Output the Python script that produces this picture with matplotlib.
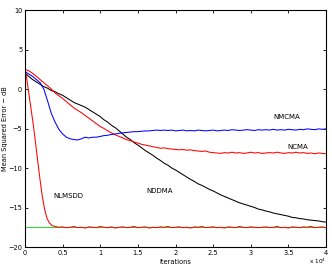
import numpy as np
import matplotlib
matplotlib.use("Agg")
import matplotlib.pyplot as plt
from matplotlib.ticker import FuncFormatter

# iteration grid (0 .. 40000, every 500)
iters = np.arange(0, 40001, 500)

nmcma = [2.2, 1.9, 1.6, 1.2, 0.8, 0.0, -1.5, -3.1, -4.2, -5.1,
         -5.7, -6.1, -6.3, -6.4, -6.45, -6.3, -6.1, -6.2, -6.1, -6.1,
         -6.0, -5.9, -5.85, -5.75, -5.7, -5.6, -5.55, -5.5, -5.45, -5.4,
         -5.4, -5.35, -5.3, -5.3, -5.25, -5.2, -5.25, -5.2, -5.25, -5.2,
         -5.3, -5.25, -5.2, -5.3, -5.25, -5.3, -5.2, -5.25, -5.3, -5.25,
         -5.2, -5.3, -5.25, -5.2, -5.25, -5.15, -5.2, -5.25, -5.2, -5.15,
         -5.2, -5.25, -5.15, -5.2, -5.15, -5.2, -5.1, -5.2, -5.15, -5.2,
         -5.1, -5.15, -5.2, -5.1, -5.15, -5.05, -5.1, -5.15, -5.05, -5.1,
         -5.05]

ncma = [2.5, 2.3, 2.0, 1.6, 1.2, 0.8, 0.4, 0.0, -0.5, -0.85,
        -1.2, -1.6, -2.0, -2.4, -2.7, -3.0, -3.35, -3.7, -4.05, -4.4,
        -4.75, -5.0, -5.3, -5.55, -5.8, -6.0, -6.2, -6.4, -6.55, -6.7,
        -6.85, -7.0, -7.1, -7.2, -7.3, -7.4, -7.5, -7.45, -7.55, -7.6,
        -7.65, -7.7, -7.65, -7.75, -7.7, -7.8, -7.85, -7.9, -7.85, -8.0,
        -8.05, -8.1, -8.15, -8.05, -8.1, -8.0, -8.1, -8.05, -8.15, -8.1,
        -8.0, -8.1, -8.05, -8.15, -8.1, -8.05, -8.1, -8.0, -8.1, -8.15,
        -8.05, -8.1, -8.0, -8.1, -8.05, -8.15, -8.1, -8.2, -8.1, -8.15,
        -8.2]

nddma = [2.0, 1.6, 1.2, 0.9, 0.6, 0.3, 0.1, -0.2, -0.35, -0.6,
         -0.8, -1.1, -1.4, -1.7, -1.9, -2.1, -2.3, -2.6, -2.9, -3.2,
         -3.5, -3.9, -4.2, -4.6, -4.9, -5.3, -5.7, -6.1, -6.4, -6.8,
         -7.1, -7.45, -7.8, -8.1, -8.4, -8.75, -9.05, -9.4, -9.65, -10.0,
         -10.25, -10.55, -10.85, -11.15, -11.45, -11.7, -12.0, -12.2, -12.45, -12.7,
         -12.9, -13.15, -13.4, -13.6, -13.8, -14.0, -14.2, -14.4, -14.55, -14.7,
         -14.85, -15.0, -15.2, -15.3, -15.45, -15.55, -15.7, -15.8, -15.9, -16.0,
         -16.1, -16.25, -16.3, -16.4, -16.45, -16.55, -16.6, -16.65, -16.7, -16.8,
         -16.85]

# fast NLMSDD curve: own iteration points
nlms_iters = [0, 200, 500, 800, 1100, 1400, 1700, 2000, 2300, 2600,
              2900, 3200, 3600, 4000, 4500] + list(range(5000, 40001, 500))
nlmsdd = [2.5, 1.5, -0.5, -2.5, -4.5, -6.8, -9.2, -11.5, -13.6, -15.2,
          -16.3, -16.9, -17.3, -17.4, -17.5,
          -17.45, -17.55, -17.5, -17.4, -17.55, -17.5, -17.6, -17.45, -17.5, -17.55,
          -17.4, -17.5, -17.55, -17.45, -17.6, -17.5, -17.45, -17.55, -17.5, -17.4,
          -17.55, -17.5, -17.45, -17.6, -17.5, -17.55, -17.45, -17.5, -17.4, -17.55,
          -17.5, -17.45, -17.55, -17.5, -17.6, -17.45, -17.5, -17.4, -17.55, -17.5,
          -17.45, -17.55, -17.5, -17.6, -17.45, -17.5, -17.55, -17.4, -17.5, -17.55,
          -17.45, -17.5, -17.55, -17.5, -17.45, -17.55, -17.5, -17.4, -17.55, -17.5,
          -17.6, -17.45, -17.5, -17.55, -17.45, -17.5, -17.4, -17.55, -17.5, -17.45,
          -17.55]

mmse_iters = [0, 40000]
mmse = [-17.5, -17.5]

xticks = [0, 5000, 10000, 15000, 20000, 25000, 30000, 35000, 40000]
yticks = [-20, -15, -10, -5, 0, 5, 10]

fig = plt.figure(figsize=(3.32, 2.67), dpi=100)
ax = fig.add_axes([0.0753, 0.0749, 0.9067, 0.8876])

lw = 0.75
ax.plot(mmse_iters, mmse, color='#33dd33', lw=lw)
ax.plot(iters, nddma, color='black', lw=lw)
ax.plot(iters, ncma, color='#ff0000', lw=lw)
ax.plot(iters, nmcma, color='#0000ff', lw=lw)
ax.plot(nlms_iters, nlmsdd, color='#ff0000', lw=lw)

ax.set_xlim(0, 40000)
ax.set_ylim(-20, 10)
ax.set_xticks(xticks)
ax.set_yticks(yticks)
ax.xaxis.set_major_formatter(FuncFormatter(lambda v, p: f"{v/1e4:g}"))
ax.tick_params(direction='in', length=2.5, width=0.6, labelsize=4.8,
               top=True, right=True, pad=2)
for s in ax.spines.values():
    s.set_linewidth(0.8)

ax.set_xlabel('Iterations', fontsize=4.8, labelpad=2)
ax.set_ylabel('Mean Squared Error \u2212 dB', fontsize=4.8)
ax.yaxis.set_label_coords(-0.057, 0.5)
ax.text(1.0, -0.062, 'x 10$^4$', transform=ax.transAxes, fontsize=4.2,
        ha='right', va='center')

ax.text(34800, -3.5, 'NMCMA', fontsize=5, ha='center', va='center')
ax.text(36300, -7.3, 'NCMA', fontsize=5, ha='center', va='center')
ax.text(5700, -13.5, 'NLMSDD', fontsize=5, ha='center', va='center')
ax.text(17900, -12.9, 'NDDMA', fontsize=5, ha='center', va='center')

fig.savefig('out.png', dpi=100)
